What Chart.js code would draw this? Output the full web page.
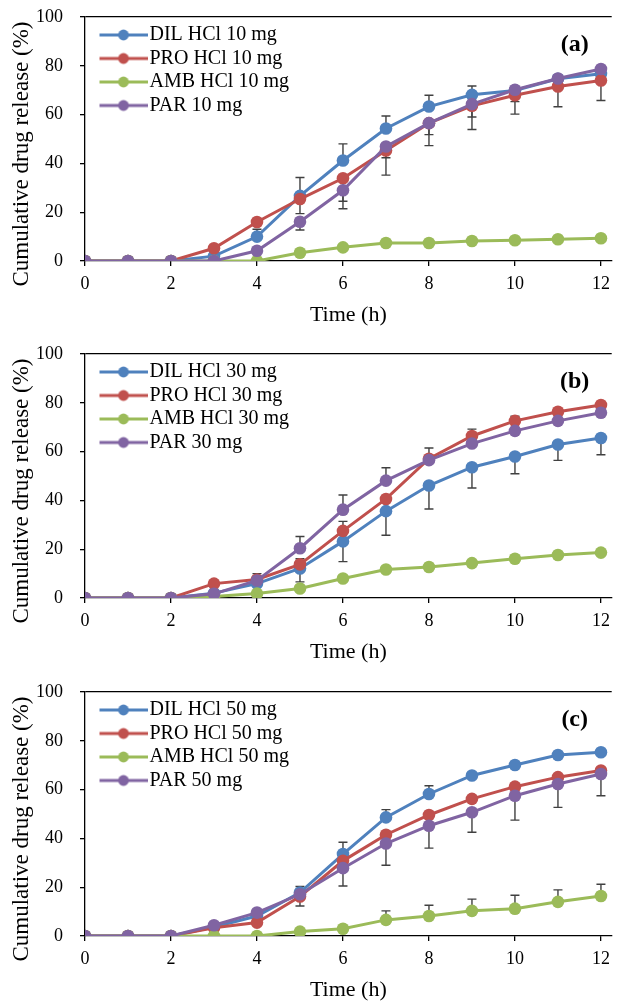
<!DOCTYPE html>
<html><head><meta charset="utf-8">
<script src="https://cdn.jsdelivr.net/npm/chart.js@4.4.1/dist/chart.umd.min.js"></script>
<style>
html,body{margin:0;padding:0;background:#fff;overflow:hidden;width:618px;height:1002px;}
canvas{position:absolute;left:0;}
</style></head><body>
<canvas id="ca" width="618" height="335" style="top:0px"></canvas>
<canvas id="cb" width="618" height="335" style="top:337px"></canvas>
<canvas id="cc" width="618" height="335" style="top:675px"></canvas>
<script>
// ---- data ----
const timeHours = [0,1,2,3,4,5,6,7,8,9,10,11,12];
const xTickValues = [0,2,4,6,8,10,12];
const yTickValues = [0,20,40,60,80,100];
const seriesNames = ['DIL HCl', 'PRO HCl', 'AMB HCl', 'PAR'];
const doseLabels = ['10 mg', '30 mg', '50 mg'];
const panelLabels = ['(a)', '(b)', '(c)'];
const yAxisTitle = 'Cumulative drug release (%)';
const xAxisTitle = 'Time (h)';

// Panel (a) 10 mg
const dil10 = [0,0,0,2,10,26.7,41.2,54.3,63.3,68.1,69.9,74.7,76.7];
const pro10 = [0,0,0,5.2,16,25.4,33.9,45.3,56.5,63.6,67.9,71.5,74];
const amb10 = [0,0,0,0,0,3.4,5.6,7.4,7.4,8.2,8.5,8.9,9.3];
const par10 = [0,0,0,0,4.2,16.1,29,46.9,56.5,64.3,70.2,74.8,78.7];
const dil10Err = [null,null,null,null,3,7.5,6.8,5.1,4.6,3.6,null,null,null];
const pro10Err = [null,null,null,null,null,-6,-12.5,-10.1,-9.2,-9.7,-7.7,-8.3,-8.2];
const amb10Err = [null,null,null,null,null,null,null,null,null,null,null,null,null];
const par10Err = [null,null,null,null,null,-3.4,-4.5,-4.6,-4.7,-5.3,-4.9,null,null];

// Panel (b) 30 mg
const dil30 = [0,0,0,2,5.9,12.1,23.2,35.6,46.1,53.6,58,62.9,65.6];
const pro30 = [0,0,0,5.9,7.6,13.8,27.5,40.6,57.1,66.4,72.6,76.3,79.1];
const amb30 = [0,0,0,0.6,1.8,3.9,8,11.7,12.7,14.3,16.1,17.6,18.6];
const par30 = [0,0,0,1.7,7.2,20.4,36.2,48.1,56.5,63.3,68.5,72.6,75.9];
const dil30Err = [null,null,null,null,null,-5.5,-8.3,-9.9,-9.6,-8.5,-7.1,-6.5,-6.9];
const pro30Err = [null,null,null,null,2.4,2.3,3.9,null,4.4,2.8,1.9,null,null];
const amb30Err = [null,null,null,null,null,null,null,null,null,null,null,null,null];
const par30Err = [null,null,null,null,null,4.8,6,5.3,null,null,null,null,null];

// Panel (c) 50 mg
const dil50 = [0,0,0,3.7,8.2,17.8,33.6,48.6,58.2,65.8,70.1,74.2,75.3];
const pro50 = [0,0,0,3.4,5.5,16.2,30.8,41.5,49.6,56.2,61.2,65.1,67.8];
const amb50 = [0,0,0,0,0,1.8,3,6.6,8.2,10.3,11.2,14,16.4];
const par50 = [0,0,0,4.4,9.6,17.1,27.8,37.9,45.2,50.7,57.5,62.3,66.4];
const dil50Err = [null,null,null,null,null,2.5,4.8,3.2,3.4,null,null,null,null];
const pro50Err = [null,null,null,null,null,-3.9,null,null,null,null,null,null,null];
const amb50Err = [null,null,null,null,null,null,null,3.7,4.4,4.8,5.5,4.9,4.8];
const par50Err = [null,null,null,null,null,null,-7.3,-8.9,-9.2,-8.2,-10,-9.6,-8.9];

const colors = ['#4F81BD', '#C0504D', '#9BBB59', '#8064A2'];

// ---- styling ----
const FONT = "'Liberation Serif', 'Times New Roman', serif";
const LEG_FS = 20, LEG_PAD = 3.5;
const CHART_LEFT = 85, LINE_START = 99.5, LINE_LEN = 48, TEXT_GAP = 2;
const LEG_BOX = (LINE_START + LINE_LEN + TEXT_GAP) - (CHART_LEFT + LEG_PAD) - LEG_FS / 2;
const Y_TITLE_SHIFT = 15;

function legendMarker(color) {
  const cx = CHART_LEFT + LEG_PAD + LEG_BOX / 2;
  const half = Math.max(cx - LINE_START, LINE_START + LINE_LEN - cx);
  const W = Math.ceil(half * 2), H = 14;
  const c = document.createElement('canvas');
  c.width = W; c.height = H;
  const g = c.getContext('2d');
  const x0 = W / 2 + (LINE_START - cx);
  g.strokeStyle = color; g.lineWidth = 3;
  g.beginPath(); g.moveTo(x0, H / 2); g.lineTo(x0 + LINE_LEN, H / 2); g.stroke();
  g.fillStyle = color;
  g.beginPath(); g.arc(x0 + LINE_LEN / 2, H / 2, 5.4, 0, Math.PI * 2); g.fill();
  return c;
}
const markers = colors.map(legendMarker);

const errorBarPlugin = {
  id: 'errorBars',
  beforeDatasetsDraw(chart) {
    const ctx = chart.ctx, xs = chart.scales.x, ys = chart.scales.y;
    ctx.save();
    ctx.strokeStyle = '#404040';
    ctx.lineWidth = 1.4;
    chart.data.datasets.forEach((ds) => {
      (ds.errorBars || []).forEach((e, j) => {
        if (e === null || e === undefined) return;
        const v = ds.data[j].y;
        const px = xs.getPixelForValue(ds.data[j].x);
        const p0 = ys.getPixelForValue(v);
        const p1 = ys.getPixelForValue(v + e);
        ctx.beginPath();
        ctx.moveTo(px, p0); ctx.lineTo(px, p1);
        ctx.moveTo(px - 4.5, p1); ctx.lineTo(px + 4.5, p1);
        ctx.stroke();
      });
    });
    ctx.restore();
  }
};

const panelLabelPlugin = {
  id: 'panelLabel',
  afterDraw(chart, args, opts) {
    const ctx = chart.ctx, a = chart.chartArea;
    ctx.save();
    ctx.font = "bold 24px " + FONT;
    ctx.fillStyle = '#000';
    ctx.textAlign = 'center';
    ctx.textBaseline = 'middle';
    ctx.fillText(opts.text, a.right - 37, a.top + 28);
    ctx.restore();
  }
};

// move the y-axis title a little downwards (as in the original figure)
const yTitleShiftPlugin = {
  id: 'yTitleShift',
  afterLayout(chart) {
    const ys = chart.scales.y;
    if (ys._shiftPatched) return;
    const orig = ys.drawTitle.bind(ys);
    ys.drawTitle = function () {
      this.top += Y_TITLE_SHIFT; this.bottom += Y_TITLE_SHIFT;
      orig();
      this.top -= Y_TITLE_SHIFT; this.bottom -= Y_TITLE_SHIFT;
    };
    ys._shiftPatched = true;
  }
};

function makeChart(id, panelIdx, seriesData, seriesErr) {
  const dose = doseLabels[panelIdx];
  const datasets = seriesNames.map((name, i) => ({
    label: name + ' ' + dose,
    data: timeHours.map((t, j) => ({x: t, y: seriesData[i][j]})),
    errorBars: seriesErr[i],
    borderColor: colors[i],
    backgroundColor: colors[i],
    pointBackgroundColor: colors[i],
    pointBorderColor: colors[i],
    pointBorderWidth: 0,
    pointRadius: 6.3,
    borderWidth: 3,
    tension: 0,
    order: 4 - i
  }));
  return new Chart(document.getElementById(id), {
    type: 'line',
    data: { datasets },
    plugins: [errorBarPlugin, panelLabelPlugin, yTitleShiftPlugin],
    options: {
      responsive: false,
      animation: false,
      devicePixelRatio: 1,
      layout: { padding: { top: 17, right: 0, bottom: 0, left: 0 } },
      plugins: {
        tooltip: { enabled: false },
        panelLabel: { text: panelLabels[panelIdx] },
        legend: {
          position: 'chartArea',
          align: 'start',
          title: { display: true, text: ' ', font: { family: FONT, size: 10 }, padding: 4.75 },
          labels: {
            usePointStyle: true,
            pointStyleWidth: LEG_BOX,
            padding: LEG_PAD,
            color: '#000',
            font: { family: FONT, size: LEG_FS },
            generateLabels: (chart) => chart.data.datasets.map((ds, i) => ({
              text: ds.label, pointStyle: markers[i], datasetIndex: i, hidden: false,
              fillStyle: ds.borderColor, strokeStyle: ds.borderColor, lineWidth: 0, fontColor: '#000'
            }))
          }
        }
      },
      scales: {
        x: {
          type: 'linear', min: 0, max: 12.25,
          afterBuildTicks: (s) => { s.ticks = xTickValues.map(v => ({value: v})); },
          afterFit: (s) => { s.height = 74; s.paddingLeft = 0; s.paddingRight = 0; },
          ticks: { color: '#000', padding: 7, font: { family: FONT, size: 18 } },
          grid: { drawOnChartArea: false, tickLength: 5, tickColor: '#000', lineWidth: 1.3 },
          border: { color: '#000', width: 1.3 },
          title: { display: true, text: xAxisTitle, color: '#000', font: { family: FONT, size: 22 }, padding: { top: 0, bottom: 7 } }
        },
        y: {
          type: 'linear', min: 0, max: 100,
          afterBuildTicks: (s) => { s.ticks = yTickValues.map(v => ({value: v})); },
          afterFit: (s) => { s.width = 85; s.paddingTop = 0; s.paddingBottom = 0; },
          ticks: { color: '#000', padding: 17, font: { family: FONT, size: 18 } },
          grid: {
            drawOnChartArea: true,
            color: (c) => (c.tick && c.tick.value === 100) ? '#000' : 'rgba(0,0,0,0)',
            tickColor: '#000', tickLength: 5, lineWidth: 1.3
          },
          border: { color: '#000', width: 1.3 },
          title: { display: true, text: yAxisTitle, color: '#000', font: { family: FONT, size: 23 }, padding: { top: 8, bottom: 0 } }
        }
      }
    }
  });
}

makeChart('ca', 0, [dil10, pro10, amb10, par10], [dil10Err, pro10Err, amb10Err, par10Err]);
makeChart('cb', 1, [dil30, pro30, amb30, par30], [dil30Err, pro30Err, amb30Err, par30Err]);
makeChart('cc', 2, [dil50, pro50, amb50, par50], [dil50Err, pro50Err, amb50Err, par50Err]);
</script>
</body></html>
